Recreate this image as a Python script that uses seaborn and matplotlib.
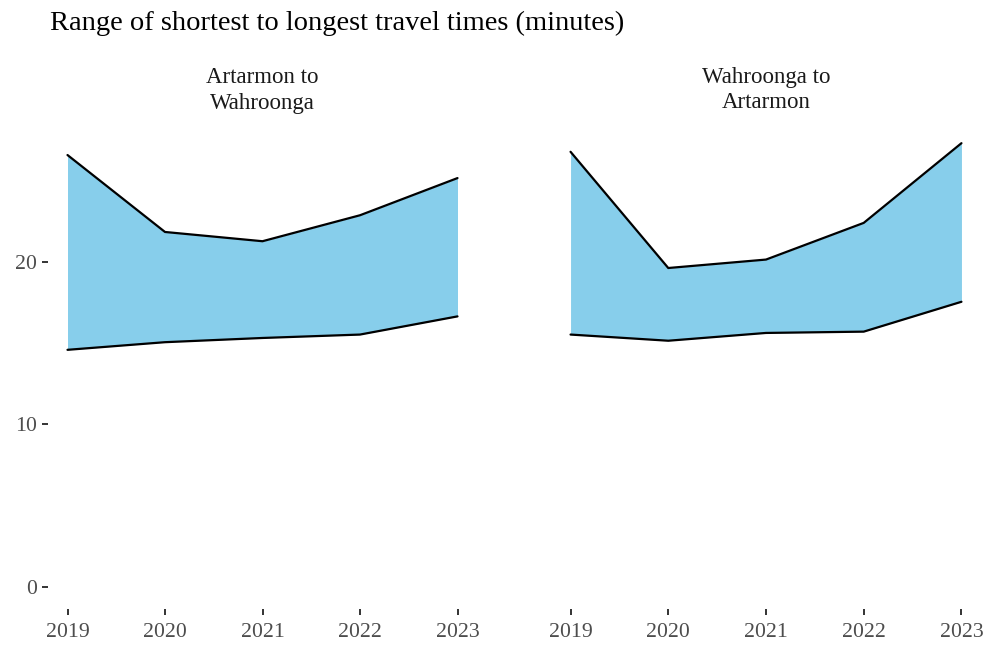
import matplotlib
matplotlib.use("Agg")
import matplotlib.pyplot as plt
import seaborn as sns
import pandas as pd

years = [2019, 2020, 2021, 2022, 2023]
panels = ["Artarmon to\nWahroonga", "Wahroonga to\nArtarmon"]
a2w_min = [14.6, 15.07, 15.33, 15.54, 16.66]
a2w_max = [26.6, 21.86, 21.29, 22.89, 25.18]
w2a_min = [15.54, 15.16, 15.64, 15.72, 17.56]
w2a_max = [26.8, 19.64, 20.16, 22.42, 27.33]

rows = []
for p, mn, mx in [(panels[0], a2w_min, a2w_max), (panels[1], w2a_min, w2a_max)]:
    for y, lo, hi in zip(years, mn, mx):
        rows.append({"panel": p, "year": y, "min": lo, "max": hi})
df = pd.DataFrame(rows)

sns.set_theme(style="white")
plt.rcParams["font.family"] = ["Liberation Serif", "DejaVu Serif"]

fig = plt.figure(figsize=(9.91, 6.53), dpi=100)
bottom = 44 / 653
height = (609 - 121) / 653
ax1 = fig.add_axes([48 / 991, bottom, 429 / 991, height])
ax2 = fig.add_axes([551 / 991, bottom, 430 / 991, height], sharey=ax1)

for ax, p in zip([ax1, ax2], panels):
    d = df[df["panel"] == p]
    ax.fill_between(d["year"], d["min"], d["max"], color="#87CEEB", linewidth=0)
    sns.lineplot(data=d, x="year", y="min", ax=ax, color="black", linewidth=1.6)
    sns.lineplot(data=d, x="year", y="max", ax=ax, color="black", linewidth=1.6)
    ax.set_xlim(2019 - 0.2, 2023 + 0.2)
    ax.set_xticks(years)
    ax.set_xticklabels([str(y) for y in years])
    ax.set_xlabel("")
    ax.set_ylabel("")
    for s in ax.spines.values():
        s.set_visible(False)
    ax.tick_params(axis="both", which="both", length=4, width=1.4, color="#333333",
                   labelsize=15.7, labelcolor="#4D4D4D", direction="out",
                   bottom=True, left=True)
    ax.tick_params(axis="x", pad=6)
    ax.tick_params(axis="y", pad=4)
    ax.set_title(p, fontsize=16.5, color="#1A1A1A", pad=9, linespacing=1.3)
    ax.grid(False)

ymax = 27.33
ax1.set_ylim(-0.05 * ymax, ymax * 1.05)
ax1.set_yticks([0, 10, 20])
ax2.tick_params(axis="y", left=False, labelleft=False)

fig.text(50 / 991, 1 - 23 / 653, "Range of shortest to longest travel times (minutes)",
         fontsize=20.5, color="black", ha="left", va="center")

fig.savefig("out.png", dpi=100)
